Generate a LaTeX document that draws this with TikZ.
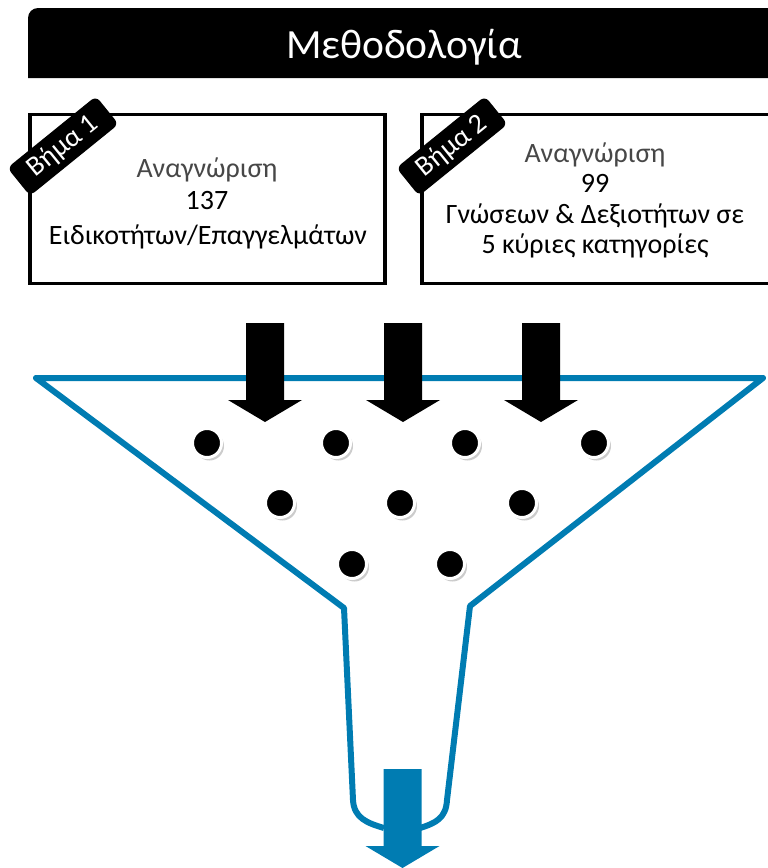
\documentclass[tikz,border=0pt]{standalone}
\usepackage{fontspec}
\setmainfont{Carlito}
\usetikzlibrary{shadows}
\definecolor{funnelblue}{RGB}{0,124,178}
\tikzset{
  titletext/.style = {text=white, anchor=base, font=\fontsize{41.5}{41.5}\selectfont},
  stepbox/.style   = {shape=rectangle, draw, line width=3.5pt,
                      minimum height=169pt, inner sep=0pt},
  steptag/.style   = {shape=rectangle, rounded corners=6pt, fill=black,
                      text=white, rotate=39, inner sep=0pt,
                      minimum width=114pt, minimum height=36pt,
                      font=\fontsize{28}{28}\selectfont},
  stepline/.style  = {anchor=base, inner sep=0pt, font=\fontsize{28}{28}\selectfont},
  lightline/.style = {stepline, text=black!72},
  ball/.style      = {circle, fill=black, draw=white, line width=3pt,
                      minimum size=29pt, inner sep=0pt,
                      drop shadow={shadow xshift=2.5pt, shadow yshift=-3pt, opacity=0.4}},
  funnel/.style    = {draw=funnelblue, line width=6pt, line join=round},
  blockarrow/.pic  = {\fill (-19,0) -- (19,0) -- (19,77) -- (37,77) -- (0,99)
                        -- (-37,77) -- (-19,77) -- cycle;}
}

\begin{document}
\begin{tikzpicture}[x=1pt, y=-1pt]
\useasboundingbox (0,0) rectangle (768,868);

% header
\fill[black] (28,78) [rounded corners=10pt] -- (28,8) [sharp corners] -- (790,8) -- (790,78) -- cycle;
\node[titletext] (title) at (404,58) {Μεθοδολογία};

% the two steps
\node[stepbox, minimum width=355pt] (box1) at (207.5,199) {};
\node[stepbox, minimum width=380pt] (box2) at (611.75,199) {};

\node[lightline] (ident1) at (207,177) {Αναγνώριση};
\node[stepline]  (count1) at (207,209) {137};
\node[stepline]  (what1)  at (208,244) {Ειδικοτήτων/Επαγγελμάτων};

\node[lightline] (ident2) at (595,162) {Αναγνώριση};
\node[stepline]  (count2) at (595,192) {99};
\node[stepline]  (what2)  at (595,223) {Γνώσεων \& Δεξιοτήτων σε};
\node[stepline]  (cat2)   at (595,253) {5 κύριες κατηγορίες};

\node[steptag] (tag1) at (63,146) {Βήμα 1};
\node[steptag] (tag2) at (452,146) {Βήμα 2};

% funnel
\draw[funnel] (384,828) .. controls (367,823) and (354,818) .. (353,800)
  -- (344,608) -- (36,378) -- (763,378) -- (470,606) -- (447,800)
  .. controls (446,818) and (436,823) .. (420,828);

\foreach \ax in {265,403,541}
  \pic[black] at (\ax,323) {blockarrow};
\pic[funnelblue] at (402.5,769) {blockarrow};

% items in the funnel
\foreach \bx/\by [count=\i] in {207/443, 336/443, 465/443, 594/443,
                                280/503, 400/503, 522/503, 352/564, 450/564}
  \node[ball] (ball\i) at (\bx,\by) {};

\end{tikzpicture}
\end{document}
